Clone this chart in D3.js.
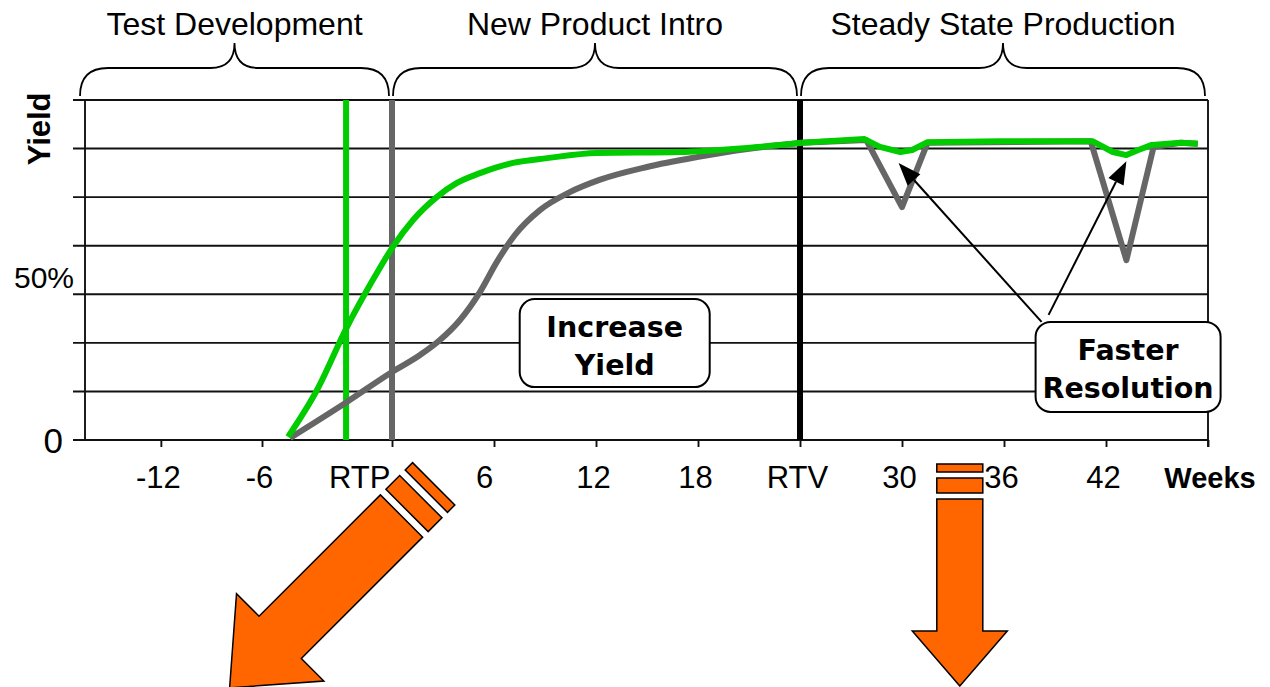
<!DOCTYPE html>
<html>
<head>
<meta charset="utf-8">
<script src="https://cdn.jsdelivr.net/npm/d3@7"></script>
<style>
  html, body { margin: 0; padding: 0; background: #fff; }
  svg { display: block; }
</style>
</head>
<body>
<svg id="chart" width="1270" height="687"></svg>
<script>
// ---- data -------------------------------------------------------------
// Weeks are counted from RTP (release to production); yield in percent.
const baselineWeeks = [-4.71, -2.08, 0, 1.65, 2.82, 4.0, 5.17, 6.17, 7.23, 8.7, 10.46, 12.2, 15, 17.94, 20.9, 24.1,
                       27.9, 30.0, 31.5, 41.1, 43.2, 44.8, 46.4, 47.4];
const baselineYield = [0.6, 11.2, 20, 25, 29.4, 35.3, 43.5, 52.4, 60.3, 67.6, 72.9, 76.5, 80.3, 83.2, 85.6, 87.4,
                       88.2, 68.5, 87.4, 87.9, 52.9, 86.2, 87.4, 87.1];

const improvedWeeks = [-4.8, -3.46, -2.08, -0.88, 0.05, 1.24, 2.65, 3.82, 5.18, 7.12, 9.12, 12.06, 16.9, 20.9, 24.1,
                       27.8, 28.7, 29.9, 30.6, 31.5, 35.8, 41.2, 42.4, 43.2, 43.9, 44.7, 46.4, 47.4];
const improvedYield = [0.9, 14.7, 33.2, 47.1, 56.8, 64.7, 71.5, 75.6, 78.5, 81.5, 82.9, 84.4, 84.7, 85.9, 87.4,
                       88.5, 86.2, 84.7, 85.3, 87.6, 87.9, 87.9, 84.7, 83.8, 85.3, 86.8, 87.4, 87.1];

const phaseNames = ["Test Development", "New Product Intro", "Steady State Production"];
const phaseStart = [-16.5, 0, 24];
const phaseEnd = [0, 24, 48];

const xTicks = [-12, -6, 0, 6, 12, 18, 24, 30, 36, 42, 48];
const xTickLabels = ["-12", "-6", "RTP", "6", "12", "18", "RTV", "30", "36", "42", ""];
const yTicks = [0, 50];
const yTickLabels = ["0", "50%"];

const earlyTestWeek = -2.12;  // improved flow: test ready before RTP
const rtpWeek = 0;
const rtvWeek = 24;
const dipWeeks = [29.8, 43.2];
const dipYield = [81.5, 82];

// ---- layout -----------------------------------------------------------
const svg = d3.select("#chart");
// the pre-RTP stretch of the time line is drawn on its own, wider step
const x = d3.scaleLinear().domain([-16.5, -6, 0, 48]).range([85, 262, 392, 1208]);
const y = d3.scaleLinear().domain([0, 100]).range([440, 100]);
const xMin = -16.5, xMax = 48;

const GREEN = "#00cc00", GRAY = "#666666", ORANGE = "#ff6600";
const SANS = "'Liberation Sans', Arial, sans-serif";
const BOLD = "'DejaVu Sans', Verdana, sans-serif";

// horizontal grid (7 bands), including the top edge and the base line
const gridVals = d3.range(0, 8).map(i => i * 100 / 7);
svg.append("g").selectAll("line").data(gridVals).join("line")
  .attr("x1", 73).attr("x2", x(xMax))
  .attr("y1", d => y(d)).attr("y2", d => y(d))
  .attr("stroke", "#111").attr("stroke-width", 1.9);

// left frame edge
svg.append("line").attr("x1", x(xMin)).attr("x2", x(xMin)).attr("y1", y(100)).attr("y2", y(0))
  .attr("stroke", "#111").attr("stroke-width", 1.9);

// x axis ticks and labels
const labelShift = { "6": -10, "RTP": -2 };
const xAxis = d3.axisBottom(x).tickValues(xTicks).tickSize(7).tickFormat((d, i) => xTickLabels[i]);
const gx = svg.append("g").attr("transform", `translate(0,${y(0)})`).call(xAxis);
gx.select(".domain").remove();
gx.selectAll(".tick line").attr("stroke", "#111").attr("stroke-width", 1.9);
gx.selectAll(".tick text")
  .attr("font-family", SANS).attr("font-size", 31).attr("fill", "#000")
  .attr("y", 0).attr("dy", 0)
  .attr("transform", "translate(0,48)")
  .attr("text-anchor", d => d === rtpWeek ? "end" : "middle")
  .attr("x", function () { const t = d3.select(this).text(); return t in labelShift ? labelShift[t] : -3; });
// right frame edge
svg.append("line").attr("x1", x(xMax)).attr("x2", x(xMax)).attr("y1", y(100)).attr("y2", y(0) + 7)
  .attr("stroke", "#111").attr("stroke-width", 1.9);

svg.append("text").attr("x", 1210).attr("y", 488)
  .attr("text-anchor", "middle").attr("font-family", SANS).attr("font-weight", "bold")
  .attr("font-size", 29).text("Weeks");

// y axis labels
const yLabelStyle = { "0": { size: 35, dx: -22, dy: 13 }, "50%": { size: 30, dx: -11, dy: 18 } };
svg.append("g").selectAll("text").data(yTicks).join("text")
  .attr("x", (d, i) => x(xMin) + yLabelStyle[yTickLabels[i]].dx)
  .attr("y", (d, i) => y(d) + yLabelStyle[yTickLabels[i]].dy)
  .attr("text-anchor", "end").attr("font-family", SANS)
  .attr("font-size", (d, i) => yLabelStyle[yTickLabels[i]].size)
  .text((d, i) => yTickLabels[i]);

svg.append("text").attr("transform", `translate(50,${y(91.5)}) rotate(-90)`)
  .attr("text-anchor", "middle").attr("font-family", SANS).attr("font-weight", "bold")
  .attr("font-size", 31).text("Yield");

// phase braces and titles
const braceTop = 43, braceMid = 68, braceEnd = 96;
function bracePath(x0, x1) {
  const xm = (x0 + x1) / 2, r = 28, rp = 24;
  return `M${x0},${braceEnd} Q${x0},${braceMid} ${x0 + r},${braceMid} L${xm - rp},${braceMid} ` +
         `Q${xm},${braceMid} ${xm},${braceTop} Q${xm},${braceMid} ${xm + rp},${braceMid} ` +
         `L${x1 - r},${braceMid} Q${x1},${braceMid} ${x1},${braceEnd}`;
}
const phases = phaseNames.map((name, i) => ({
  name,
  x0: i === 0 ? x(phaseStart[i]) - 5 : x(phaseStart[i]) + 1,
  x1: x(phaseEnd[i]) - 3
}));
svg.append("g").selectAll("path").data(phases).join("path")
  .attr("d", d => bracePath(d.x0, d.x1))
  .attr("fill", "none").attr("stroke", "#000").attr("stroke-width", 1.8);
svg.append("g").selectAll("text").data(phases).join("text")
  .attr("x", d => (d.x0 + d.x1) / 2).attr("y", 35)
  .attr("text-anchor", "middle").attr("font-family", SANS).attr("font-size", 32)
  .text(d => d.name);

// milestone markers
const markers = [
  { week: earlyTestWeek, color: GREEN, width: 6 },
  { week: rtpWeek, color: GRAY, width: 6 },
  { week: rtvWeek, color: "#000", width: 6 }
];
svg.append("g").selectAll("line").data(markers).join("line")
  .attr("x1", d => x(d.week)).attr("x2", d => x(d.week))
  .attr("y1", y(100)).attr("y2", y(0))
  .attr("stroke", d => d.color).attr("stroke-width", d => d.width);

// yield curves: smooth ramp up to RTV, then week-to-week steady state
function drawSeries(weeks, vals, color) {
  const pts = weeks.map((w, i) => [w, vals[i]]);
  const ramp = pts.filter(p => p[0] <= rtvWeek + 0.5);
  const steady = pts.filter(p => p[0] >= rtvWeek);
  const smooth = d3.line().x(d => x(d[0])).y(d => y(d[1])).curve(d3.curveMonotoneX);
  const straight = d3.line().x(d => x(d[0])).y(d => y(d[1]));
  [[ramp, smooth], [steady, straight]].forEach(([p, gen]) => {
    svg.append("path").attr("d", gen(p)).attr("fill", "none")
      .attr("stroke", color).attr("stroke-width", 6)
      .attr("stroke-linejoin", "round").attr("stroke-linecap", "butt");
  });
}
drawSeries(baselineWeeks, baselineYield, GRAY);
drawSeries(improvedWeeks, improvedYield, GREEN);

// callout boxes
function callout(cxWeek, cyYield, w, h, lines) {
  const cx = x(cxWeek), cy = y(cyYield);
  const x0 = cx - w / 2, y0 = cy - h / 2;
  const g = svg.append("g");
  g.append("rect").attr("x", x0).attr("y", y0).attr("width", w).attr("height", h)
    .attr("rx", 15).attr("ry", 15)
    .attr("fill", "#fff").attr("stroke", "#000").attr("stroke-width", 2);
  g.selectAll("text").data(lines).join("text")
    .attr("x", cx).attr("y", (d, i) => y0 + 38 + i * 38)
    .attr("text-anchor", "middle").attr("font-family", BOLD).attr("font-weight", "bold")
    .attr("font-size", 28.5).text(d => d);
  return { x0, y0 };
}
callout(13.1, 28.5, 190, 88, ["Increase", "Yield"]);

// arrows from the "Faster Resolution" box to the two excursions
function pointer(tail, tip) {
  const dx = tip[0] - tail[0], dy = tip[1] - tail[1];
  const len = Math.hypot(dx, dy), ux = dx / len, uy = dy / len;
  const hl = 23, hw = 8.5;
  const bx = tip[0] - ux * hl, by = tip[1] - uy * hl;
  svg.append("line").attr("x1", tail[0]).attr("y1", tail[1]).attr("x2", bx).attr("y2", by)
    .attr("stroke", "#000").attr("stroke-width", 2);
  svg.append("polygon")
    .attr("points", [[tip[0], tip[1]], [bx - uy * hw, by + ux * hw], [bx + uy * hw, by - ux * hw]].join(" "))
    .attr("fill", "#000");
}
const fr = { x0: x(43.3) - 92.5, y0: y(21.5) - 45 };
pointer([fr.x0 + 6, fr.y0], [x(dipWeeks[0]), y(dipYield[0])]);
pointer([fr.x0 + 13, fr.y0 - 7], [x(dipWeeks[1]), y(dipYield[1])]);
callout(43.3, 21.5, 185, 90, ["Faster", "Resolution"]);

// big orange "next step" arrows, shaft with two cut bands
function blockArrow(tx, ty, angle, scale) {
  const g = svg.append("g").attr("transform", `translate(${tx},${ty}) rotate(${angle}) scale(${scale})`);
  const sw = 23, sl = 132, hw = 47.5, hl = 55;
  const body = [[-sw, 0], [sw, 0], [sw, sl], [hw, sl], [0, sl + hl], [-hw, sl], [-sw, sl]];
  const style = sel => sel.attr("fill", ORANGE).attr("stroke", "#000")
    .attr("stroke-width", 1.5 / scale).attr("stroke-linejoin", "miter");
  style(g.append("polygon").attr("points", body.join(" ")));
  [[-21, -6], [-35, -27]].forEach(([a, b]) => {
    style(g.append("rect").attr("x", -sw).attr("y", a).attr("width", 2 * sw).attr("height", b - a));
  });
}
blockArrow(x(0.56), 516, 45, 1.3);
blockArrow(x(33.4), 499, 0, 1);
</script>
</body>
</html>
